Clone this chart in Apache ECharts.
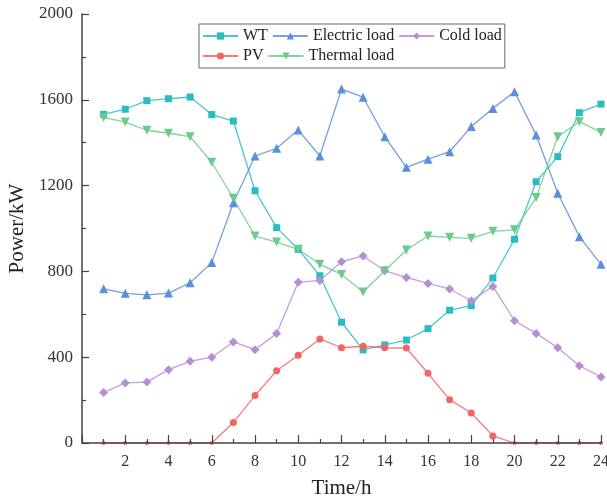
<!DOCTYPE html>
<html>
<head>
<meta charset="utf-8">
<script src="https://cdn.jsdelivr.net/npm/echarts@6/dist/echarts.min.js"></script>
<style>
html,body{margin:0;padding:0;background:#fff;}
#chart{width:607px;height:501px;}
</style>
</head>
<body>
<div id="chart"></div>
<script>
const hours = [1,2,3,4,5,6,7,8,9,10,11,12,13,14,15,16,17,18,19,20,21,22,23,24];
const xTicks = [2,4,6,8,10,12,14,16,18,20,22,24];
const yTicks = [0,400,800,1200,1600,2000];
const wt = [1532,1556,1596,1605,1613,1531,1501,1176,1004,903,780,563,434,457,480,533,619,640,769,950,1218,1335,1540,1580];
const electric = [719,698,691,699,747,841,1120,1338,1374,1459,1338,1650,1612,1428,1285,1323,1358,1475,1560,1638,1436,1164,962,833];
const cold = [235,280,284,342,381,400,471,435,510,749,758,845,872,803,772,744,718,663,730,570,511,444,360,308];
const pv = [0,0,0,0,0,0,96,221,337,409,485,444,451,444,443,325,202,140,33,0,0,0,0,0];
const thermal = [1518,1496,1458,1444,1428,1309,1141,965,937,903,833,786,704,803,900,965,959,954,987,994,1144,1428,1498,1448];

const pairs = arr => hours.map((h, i) => [h, arr[i]]);
const font = '"Liberation Serif","Times New Roman",serif';

function mk(name, data, color, symbol, size, rotate) {
  return {
    name: name, type: 'line', data: pairs(data),
    symbol: symbol, symbolSize: size, symbolRotate: rotate || 0,
    lineStyle: {width: 1.3, color: color, opacity: 0.85},
    itemStyle: {color: color},
    emphasis: {disabled: true},
    animation: false
  };
}

const chart = echarts.init(document.getElementById('chart'), null, {renderer: 'canvas'});
const pvSeries = mk('PV', pv, '#f26466', 'circle', 7);
pvSeries.symbolSize = v => (v[1] === 0 ? 4 : 7);

chart.setOption({
  backgroundColor: '#fff',
  animation: false,
  textStyle: {fontFamily: font},
  grid: {left: 82, right: 6, top: 14, bottom: 58, containLabel: false, outerBoundsMode: 'none'},
  legend: {
    left: 199, top: 24, width: 330,
    orient: 'horizontal',
    padding: [4, 3, 4, 3],
    itemGap: 4, itemWidth: 35, itemHeight: 9,
    borderColor: '#666', borderWidth: 1,
    textStyle: {fontFamily: font, fontSize: 16, color: '#222'},
    data: ['WT', 'Electric load', 'Cold load', 'PV', 'Thermal load']
  },
  xAxis: {
    type: 'value', min: 0, max: 24, interval: 2, z: 5,
    name: 'Time/h', nameLocation: 'middle', nameGap: 35,
    nameTextStyle: {fontFamily: font, fontSize: 21, color: '#222'},
    axisLine: {lineStyle: {color: '#444', width: 1.5}},
    axisTick: {inside: true, length: 8, lineStyle: {color: '#444', width: 1.2}},
    minorTick: {show: true, splitNumber: 2, length: 4, lineStyle: {color: '#444', width: 1.2}},
    splitLine: {show: false},
    axisLabel: {
      fontFamily: font, fontSize: 16, color: '#333', margin: 11,
      formatter: v => (xTicks.indexOf(v) >= 0 ? String(v) : '')
    }
  },
  yAxis: {
    type: 'value', min: 0, max: 2000, interval: 400,
    name: 'Power/kW', nameLocation: 'middle', nameGap: 51, nameRotate: 90,
    nameTextStyle: {fontFamily: font, fontSize: 21, color: '#222'},
    axisLine: {show: true, lineStyle: {color: '#444', width: 1.5}},
    axisTick: {show: true, inside: true, length: 7, lineStyle: {color: '#444', width: 1.2}},
    minorTick: {show: true, splitNumber: 2, length: 4, lineStyle: {color: '#444', width: 1.2}},
    splitLine: {show: false},
    axisLabel: {
      fontFamily: font, fontSize: 17, color: '#333', margin: 9,
      formatter: v => (yTicks.indexOf(v) >= 0 ? String(v) : '')
    }
  },
  series: [
    mk('WT', wt, '#2bbcc3', 'rect', 7),
    mk('Electric load', electric, '#5b8fdb', 'triangle', 9),
    mk('Cold load', cold, '#b88ed3', 'diamond', 9),
    pvSeries,
    mk('Thermal load', thermal, '#6ccb8b', 'triangle', 9, 180)
  ]
});
</script>
</body>
</html>
